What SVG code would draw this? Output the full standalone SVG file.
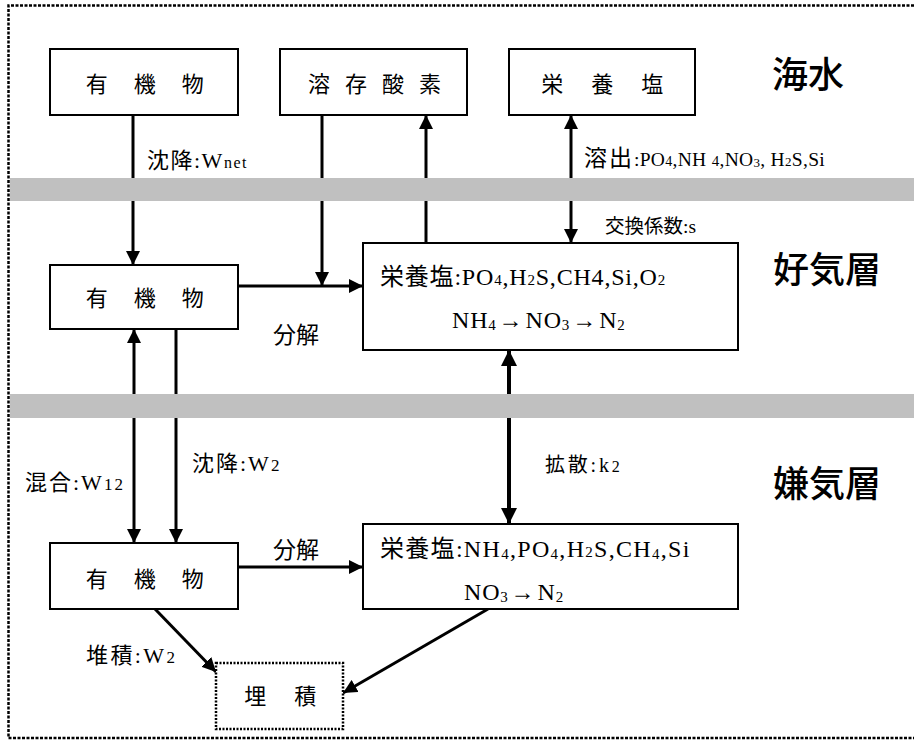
<svg xmlns="http://www.w3.org/2000/svg" width="914" height="740" viewBox="0 0 914 740">
<style>
.box{fill:#fff;stroke:#000;stroke-width:2}
.dot{fill:#fff;stroke:#000;stroke-width:2.5;stroke-dasharray:2 1.5}
.band{fill:#c0c0c0}
.ln{stroke:#000;stroke-width:3;fill:none}
.thick{stroke:#000;stroke-width:4;fill:none}
.cjk{font-family:"Noto Sans CJK JP","Noto Sans CJK SC",sans-serif;fill:#000}
.lbl{font-family:"Liberation Serif","Noto Sans CJK JP",serif;fill:#000}
.arr{font-size:24px;letter-spacing:3px}
.layer{font-family:"Noto Sans CJK JP",sans-serif;font-size:36px;font-weight:500;fill:#000}
</style>
<defs>
<marker id="ah" markerUnits="userSpaceOnUse" markerWidth="14" markerHeight="14" refX="14" refY="7" orient="auto-start-reverse" viewBox="0 0 14 14">
<path d="M0,0 L14,7 L0,14 z" fill="#000"/>
</marker>
<marker id="ahb" markerUnits="userSpaceOnUse" markerWidth="16" markerHeight="16" refX="16" refY="8" orient="auto-start-reverse" viewBox="0 0 16 16">
<path d="M0,0 L16,8 L0,16 z" fill="#000"/>
</marker>
</defs>
<rect width="914" height="740" fill="#fff"/>
<path d="M914,5.5 H8.5 V738 H914" fill="none" stroke="#000" stroke-width="2.5" stroke-dasharray="3 1.5"/>

<g id="connectors">
<line class="ln" x1="133" y1="115" x2="133" y2="265" marker-end="url(#ah)"/>
<line class="ln" x1="322" y1="115" x2="322" y2="286" marker-end="url(#ah)"/>
<line class="ln" x1="238" y1="286" x2="363" y2="286" marker-end="url(#ah)"/>
<line class="ln" x1="426" y1="243" x2="426" y2="115" marker-end="url(#ah)"/>
<line class="ln" x1="571" y1="115" x2="571" y2="243" marker-start="url(#ah)" marker-end="url(#ah)"/>
<line class="thick" x1="509" y1="350" x2="509" y2="524" marker-start="url(#ahb)" marker-end="url(#ahb)"/>
<line class="ln" x1="134" y1="329" x2="134" y2="543" marker-start="url(#ah)" marker-end="url(#ah)"/>
<line class="ln" x1="176" y1="329" x2="176" y2="543" marker-end="url(#ah)"/>
<line class="ln" x1="238" y1="567" x2="363" y2="567" marker-end="url(#ah)"/>
<line class="ln" x1="155" y1="609" x2="216" y2="672" marker-end="url(#ah)"/>
<line class="ln" x1="488" y1="609" x2="343" y2="693" marker-end="url(#ah)"/>
</g>

<g id="bands">
<rect class="band" x="10" y="178" width="904" height="23"/>
<rect class="band" x="10" y="394" width="904" height="24"/>
</g>

<g id="node-organic-sea">
<rect class="box" x="50" y="49" width="188" height="66"/>
<text class="cjk" x="150" y="82" font-size="22" text-anchor="middle" dominant-baseline="central" letter-spacing="10.5">有 機 物</text>
</g>
<g id="node-oxygen">
<rect class="box" x="280" y="49" width="187" height="66"/>
<text class="cjk" x="377" y="82" font-size="22" text-anchor="middle" dominant-baseline="central" letter-spacing="5">溶 存 酸 素</text>
</g>
<g id="node-nutrient-sea">
<rect class="box" x="509" y="49" width="186" height="66"/>
<text class="cjk" x="608" y="82" font-size="22" text-anchor="middle" dominant-baseline="central" letter-spacing="11.5">栄 養 塩</text>
</g>
<g id="node-organic-aerobic">
<rect class="box" x="50" y="265" width="188" height="64"/>
<text class="cjk" x="150" y="296" font-size="22" text-anchor="middle" dominant-baseline="central" letter-spacing="10.5">有 機 物</text>
</g>
<g id="node-nutrient-aerobic">
<rect class="box" x="363" y="243" width="375" height="107"/>
<text class="lbl" x="380" y="285" font-size="24" letter-spacing="0.8">栄養塩:PO<tspan font-size="15">4</tspan>,H<tspan font-size="15">2</tspan>S,CH4,Si,O<tspan font-size="15">2</tspan></text>
<text class="lbl" x="452" y="328" font-size="24" letter-spacing="0.8">NH<tspan font-size="15" dy="2">4</tspan><tspan class="arr" dx="2" dy="-2">→</tspan>NO<tspan font-size="15" dy="2">3</tspan><tspan class="arr" dx="2" dy="-2">→</tspan>N<tspan font-size="15" dy="2">2</tspan></text>
</g>
<g id="node-organic-anaerobic">
<rect class="box" x="50" y="543" width="188" height="66"/>
<text class="cjk" x="150" y="577" font-size="22" text-anchor="middle" dominant-baseline="central" letter-spacing="10.5">有 機 物</text>
</g>
<g id="node-nutrient-anaerobic">
<rect class="box" x="363" y="524" width="375" height="85"/>
<text class="lbl" x="380" y="557" font-size="24" letter-spacing="1.3">栄養塩:NH<tspan font-size="15" dy="2">4</tspan><tspan dy="-2">,PO</tspan><tspan font-size="15" dy="2">4</tspan><tspan dy="-2">,H</tspan><tspan font-size="15">2</tspan>S,CH<tspan font-size="15" dy="2">4</tspan><tspan dy="-2">,Si</tspan></text>
<text class="lbl" x="464" y="600" font-size="24" letter-spacing="0.8">NO<tspan font-size="15" dy="2">3</tspan><tspan class="arr" dx="2" dy="-2">→</tspan>N<tspan font-size="15" dy="2">2</tspan></text>
</g>
<g id="node-burial">
<rect class="dot" x="216" y="663" width="127" height="66"/>
<text class="cjk" x="286" y="694" font-size="22" text-anchor="middle" dominant-baseline="central" letter-spacing="11.5">埋 積</text>
</g>

<g id="labels">
<text class="lbl" x="147" y="168" font-size="22" letter-spacing="1.5">沈降:W<tspan font-size="16">net</tspan></text>
<text class="lbl" x="584" y="166" font-size="23" letter-spacing="2">溶出<tspan font-size="19.5" letter-spacing="0.3">:PO<tspan font-size="14">4</tspan>,NH <tspan font-size="15">4</tspan>,NO<tspan font-size="13" dy="1">3</tspan><tspan dy="-1">, H</tspan><tspan font-size="13">2</tspan>S,Si</tspan></text>
<text class="lbl" x="605" y="233" font-size="19.5">交換係数:s</text>
<text class="lbl" x="273" y="343" font-size="23">分解</text>
<text class="lbl" x="192" y="471" font-size="22" letter-spacing="2">沈降:W<tspan font-size="17">2</tspan></text>
<text class="lbl" x="25" y="490" font-size="22" letter-spacing="2">混合:W<tspan font-size="17">12</tspan></text>
<text class="lbl" x="545" y="472" font-size="20" letter-spacing="2.8">拡散:k<tspan font-size="16">2</tspan></text>
<text class="lbl" x="273" y="558" font-size="23">分解</text>
<text class="lbl" x="86" y="663" font-size="22" letter-spacing="2.4">堆積:W<tspan font-size="17">2</tspan></text>
<text class="layer" x="772" y="88">海水</text>
<text class="layer" x="773" y="283">好気層</text>
<text class="layer" x="773" y="497">嫌気層</text>
</g>
</svg>
